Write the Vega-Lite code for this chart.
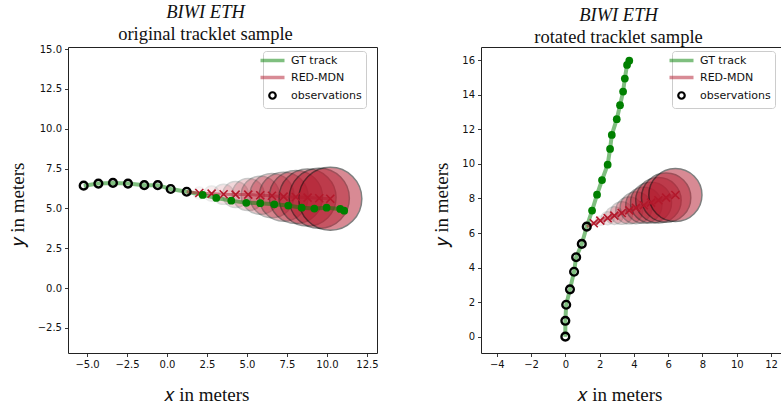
{
  "$schema": "https://vega.github.io/schema/vega-lite/v6.json",
  "padding": {"left": 7, "top": 2, "right": 0, "bottom": 0},
  "spacing": 104,
  "bounds": "flush",
  "datasets": {
    "leftTrack": [
      {"t": 0, "kind": "obs", "x": -5.21, "y": 6.43},
      {"t": 1, "kind": "obs", "x": -4.29, "y": 6.56},
      {"t": 2, "kind": "obs", "x": -3.38, "y": 6.60},
      {"t": 3, "kind": "obs", "x": -2.44, "y": 6.56},
      {"t": 4, "kind": "obs", "x": -1.42, "y": 6.46},
      {"t": 5, "kind": "obs", "x": -0.58, "y": 6.46},
      {"t": 6, "kind": "obs", "x": 0.23, "y": 6.22},
      {"t": 7, "kind": "obs", "x": 1.23, "y": 6.05},
      {"t": 8, "kind": "future", "x": 2.23, "y": 5.85},
      {"t": 9, "kind": "future", "x": 3.08, "y": 5.66},
      {"t": 10, "kind": "future", "x": 4.02, "y": 5.49},
      {"t": 11, "kind": "future", "x": 4.96, "y": 5.35},
      {"t": 12, "kind": "future", "x": 5.83, "y": 5.33},
      {"t": 13, "kind": "future", "x": 6.71, "y": 5.26},
      {"t": 14, "kind": "future", "x": 7.58, "y": 5.18},
      {"t": 15, "kind": "future", "x": 8.42, "y": 5.05},
      {"t": 16, "kind": "future", "x": 9.21, "y": 4.99},
      {"t": 17, "kind": "future", "x": 9.98, "y": 5.05},
      {"t": 18, "kind": "future", "x": 10.83, "y": 4.97},
      {"t": 19, "kind": "future", "x": 11.08, "y": 4.86}
    ],
    "leftPred": [
      {"step": 0, "x": 1.23, "y": 6.05, "r": 0},
      {"step": 1, "x": 2.02, "y": 5.97, "r": 0.38},
      {"step": 2, "x": 2.79, "y": 5.93, "r": 0.47},
      {"step": 3, "x": 3.54, "y": 5.89, "r": 0.63},
      {"step": 4, "x": 4.29, "y": 5.87, "r": 0.81},
      {"step": 5, "x": 5.08, "y": 5.87, "r": 1.0},
      {"step": 6, "x": 5.83, "y": 5.83, "r": 1.19},
      {"step": 7, "x": 6.56, "y": 5.80, "r": 1.38},
      {"step": 8, "x": 7.29, "y": 5.74, "r": 1.53},
      {"step": 9, "x": 8.06, "y": 5.72, "r": 1.66},
      {"step": 10, "x": 8.79, "y": 5.68, "r": 1.78},
      {"step": 11, "x": 9.52, "y": 5.64, "r": 1.88},
      {"step": 12, "x": 10.21, "y": 5.61, "r": 1.97}
    ],
    "rightTrack": [
      {"t": 0, "kind": "obs", "x": 0.0, "y": 0.0},
      {"t": 1, "kind": "obs", "x": 0.0, "y": 0.92},
      {"t": 2, "kind": "obs", "x": 0.05, "y": 1.85},
      {"t": 3, "kind": "obs", "x": 0.27, "y": 2.74},
      {"t": 4, "kind": "obs", "x": 0.51, "y": 3.76},
      {"t": 5, "kind": "obs", "x": 0.63, "y": 4.60},
      {"t": 6, "kind": "obs", "x": 0.96, "y": 5.37},
      {"t": 7, "kind": "obs", "x": 1.25, "y": 6.37},
      {"t": 8, "kind": "future", "x": 1.56, "y": 7.30},
      {"t": 9, "kind": "future", "x": 1.85, "y": 8.22},
      {"t": 10, "kind": "future", "x": 2.14, "y": 9.07},
      {"t": 11, "kind": "future", "x": 2.47, "y": 9.96},
      {"t": 12, "kind": "future", "x": 2.61, "y": 10.87},
      {"t": 13, "kind": "future", "x": 2.71, "y": 11.68},
      {"t": 14, "kind": "future", "x": 3.00, "y": 12.59},
      {"t": 15, "kind": "future", "x": 3.19, "y": 13.40},
      {"t": 16, "kind": "future", "x": 3.37, "y": 14.19},
      {"t": 17, "kind": "future", "x": 3.47, "y": 14.94},
      {"t": 18, "kind": "future", "x": 3.60, "y": 15.73},
      {"t": 19, "kind": "future", "x": 3.73, "y": 15.98}
    ],
    "rightPred": [
      {"step": 0, "x": 1.25, "y": 6.37, "r": 0},
      {"step": 1, "x": 1.66, "y": 6.57, "r": 0.17},
      {"step": 2, "x": 2.04, "y": 6.72, "r": 0.29},
      {"step": 3, "x": 2.47, "y": 6.86, "r": 0.41},
      {"step": 4, "x": 2.86, "y": 7.01, "r": 0.55},
      {"step": 5, "x": 3.29, "y": 7.16, "r": 0.70},
      {"step": 6, "x": 3.73, "y": 7.31, "r": 0.84},
      {"step": 7, "x": 4.12, "y": 7.46, "r": 0.99},
      {"step": 8, "x": 4.58, "y": 7.61, "r": 1.13},
      {"step": 9, "x": 5.00, "y": 7.76, "r": 1.28},
      {"step": 10, "x": 5.43, "y": 7.90, "r": 1.42},
      {"step": 11, "x": 5.88, "y": 8.05, "r": 1.54},
      {"step": 12, "x": 6.42, "y": 8.20, "r": 1.66}
    ]
  },
  "hconcat": [
    {
      "width": 309,
      "height": 306,
      "view": {"stroke": "#222", "strokeWidth": 1},
      "title": {"text": "BIWI ETH", "subtitle": "original tracklet sample", "frame": "group", "dx": -17},
      "layer": [
        {
          "data": {"name": "leftPred"},
          "transform": [{"filter": "datum.step > 0"}],
          "mark": {"type": "point", "shape": "circle", "filled": true, "fill": "#b2182b", "stroke": "black", "strokeWidth": 1.5},
          "encoding": {
            "x": {"field": "x", "type": "quantitative", "scale": {"domain": [-6.19, 13.13], "nice": false, "zero": false},
                  "axis": {"values": [-5, -2.5, 0, 2.5, 5, 7.5, 10, 12.5], "format": ".1f", "title": "𝑥 in meters", "titlePadding": 16, "titleX": 138, "labelOverlap": false}},
            "y": {"field": "y", "type": "quantitative", "scale": {"domain": [-4.07, 15.13], "nice": false, "zero": false},
                  "axis": {"values": [-2.5, 0, 2.5, 5, 7.5, 10, 12.5, 15], "format": ".1f", "title": "𝑦 in meters", "titleY": 157, "labelOverlap": false}},
            "size": {"field": "r", "type": "quantitative", "scale": {"type": "pow", "exponent": 2, "domain": [0, 2], "range": [0, 4096]}, "legend": null},
            "opacity": {"field": "step", "type": "quantitative", "scale": {"domain": [0, 12], "range": [0, 0.5]}, "legend": null}
          }
        },
        {
          "data": {"name": "leftTrack"},
          "mark": {"type": "line", "strokeWidth": 4},
          "encoding": {
            "x": {"field": "x", "type": "quantitative"},
            "y": {"field": "y", "type": "quantitative"},
            "order": {"field": "t", "type": "quantitative"},
            "color": {
              "datum": "GT track",
              "scale": {"domain": ["GT track", "RED-MDN", "observations"], "range": ["rgba(0,128,0,0.5)", "rgba(178,24,43,0.5)", "black"]},
              "legend": {
                "title": null, "orient": "none", "legendX": 195, "legendY": 4, "symbolSize": 900,
                "encode": {"symbols": {"update": {
                  "shape": {"signal": "datum.value === 'observations' ? 'circle' : 'stroke'"},
                  "size": {"signal": "datum.value === 'observations' ? 42 : 576"},
                  "strokeWidth": {"signal": "datum.value === 'observations' ? 2.2 : 3.5"},
                  "fill": {"value": "transparent"}
                }}}
              }
            }
          }
        },
        {
          "data": {"name": "leftPred"},
          "mark": {"type": "line", "strokeWidth": 3},
          "encoding": {
            "x": {"field": "x", "type": "quantitative"},
            "y": {"field": "y", "type": "quantitative"},
            "order": {"field": "step", "type": "quantitative"},
            "color": {"datum": "RED-MDN"}
          }
        },
        {
          "data": {"name": "leftPred"},
          "transform": [{"filter": "datum.step > 0"}],
          "mark": {"type": "point", "shape": "M -1 -1 L 1 1 M -1 1 L 1 -1", "filled": false, "color": "#b2182b", "strokeWidth": 1.6, "size": 64, "opacity": 1},
          "encoding": {
            "x": {"field": "x", "type": "quantitative"},
            "y": {"field": "y", "type": "quantitative"}
          }
        },
        {
          "data": {"name": "leftTrack"},
          "transform": [{"filter": "datum.kind === 'future'"}],
          "mark": {"type": "point", "shape": "circle", "filled": true, "color": "green", "size": 60, "opacity": 1},
          "encoding": {
            "x": {"field": "x", "type": "quantitative"},
            "y": {"field": "y", "type": "quantitative"}
          }
        },
        {
          "data": {"name": "leftTrack"},
          "transform": [{"filter": "datum.kind === 'obs'"}],
          "mark": {"type": "point", "shape": "circle", "filled": false, "strokeWidth": 2.4, "size": 60, "opacity": 1},
          "encoding": {
            "x": {"field": "x", "type": "quantitative"},
            "y": {"field": "y", "type": "quantitative"},
            "color": {"datum": "observations"}
          }
        }
      ]
    },
    {
      "width": 301,
      "height": 306,
      "view": {"stroke": null},
      "title": {"text": "BIWI ETH", "subtitle": "rotated tracklet sample", "frame": "group", "dx": -13},
      "resolve": {"axis": {"x": "independent", "y": "independent"}},
      "layer": [
        {
          "data": {"name": "rightPred"},
          "transform": [{"filter": "datum.step > 0"}],
          "mark": {"type": "point", "shape": "circle", "filled": true, "fill": "#b2182b", "stroke": "black", "strokeWidth": 1.5},
          "encoding": {
            "x": {"field": "x", "type": "quantitative", "scale": {"domain": [-4.92, 12.64], "nice": false, "zero": false},
                  "axis": {"values": [-4, -2, 0, 2, 4, 6, 8, 10, 12], "title": "𝑥 in meters", "titlePadding": 16, "titleX": 138, "domain": true, "labelOverlap": false}},
            "y": {"field": "y", "type": "quantitative", "scale": {"domain": [-0.944, 16.77], "nice": false, "zero": false},
                  "axis": {"values": [0, 2, 4, 6, 8, 10, 12, 14, 16], "tickCount": 9, "title": "𝑦 in meters", "titleY": 157, "domain": true, "labelOverlap": false}},
            "size": {"field": "r", "type": "quantitative", "scale": {"type": "pow", "exponent": 2, "domain": [0, 2], "range": [0, 4700]}, "legend": null},
            "opacity": {"field": "step", "type": "quantitative", "scale": {"domain": [0, 12], "range": [0, 0.5]}, "legend": null}
          }
        },
        {
          "data": {"name": "rightTrack"},
          "mark": {"type": "line", "strokeWidth": 4},
          "encoding": {
            "x": {"field": "x", "type": "quantitative", "axis": {"orient": "top", "labels": false, "ticks": false, "title": null, "domain": true}},
            "y": {"field": "y", "type": "quantitative", "axis": null},
            "order": {"field": "t", "type": "quantitative"},
            "color": {
              "datum": "GT track",
              "scale": {"domain": ["GT track", "RED-MDN", "observations"], "range": ["rgba(0,128,0,0.5)", "rgba(178,24,43,0.5)", "black"]},
              "legend": {
                "title": null, "orient": "none", "legendX": 191, "legendY": 4, "symbolSize": 900,
                "encode": {"symbols": {"update": {
                  "shape": {"signal": "datum.value === 'observations' ? 'circle' : 'stroke'"},
                  "size": {"signal": "datum.value === 'observations' ? 42 : 576"},
                  "strokeWidth": {"signal": "datum.value === 'observations' ? 2.2 : 3.5"},
                  "fill": {"value": "transparent"}
                }}}
              }
            }
          }
        },
        {
          "data": {"name": "rightPred"},
          "mark": {"type": "line", "strokeWidth": 3},
          "encoding": {
            "x": {"field": "x", "type": "quantitative", "axis": null},
            "y": {"field": "y", "type": "quantitative", "axis": null},
            "order": {"field": "step", "type": "quantitative"},
            "color": {"datum": "RED-MDN"}
          }
        },
        {
          "data": {"name": "rightPred"},
          "transform": [{"filter": "datum.step > 0"}],
          "mark": {"type": "point", "shape": "M -1 -1 L 1 1 M -1 1 L 1 -1", "filled": false, "color": "#b2182b", "strokeWidth": 1.6, "size": 64, "opacity": 1},
          "encoding": {
            "x": {"field": "x", "type": "quantitative", "axis": null},
            "y": {"field": "y", "type": "quantitative", "axis": null}
          }
        },
        {
          "data": {"name": "rightTrack"},
          "transform": [{"filter": "datum.kind === 'future'"}],
          "mark": {"type": "point", "shape": "circle", "filled": true, "color": "green", "size": 60, "opacity": 1},
          "encoding": {
            "x": {"field": "x", "type": "quantitative", "axis": null},
            "y": {"field": "y", "type": "quantitative", "axis": null}
          }
        },
        {
          "data": {"name": "rightTrack"},
          "transform": [{"filter": "datum.kind === 'obs'"}],
          "mark": {"type": "point", "shape": "circle", "filled": false, "strokeWidth": 2.4, "size": 60, "opacity": 1},
          "encoding": {
            "x": {"field": "x", "type": "quantitative", "axis": null},
            "y": {"field": "y", "type": "quantitative", "axis": null},
            "color": {"datum": "observations"}
          }
        }
      ]
    }
  ],
  "resolve": {"scale": {"color": "independent"}, "legend": {"color": "independent"}},
  "config": {
    "background": "white",
    "axis": {
      "grid": false,
      "domain": false,
      "domainColor": "#222",
      "domainWidth": 1,
      "tickColor": "#222",
      "tickSize": 3.5,
      "tickWidth": 0.9,
      "labelFont": "DejaVu Sans",
      "labelFontSize": 10,
      "labelColor": "#111",
      "labelPadding": 3,
      "labelOverlap": false,
      "titleFont": "Liberation Serif",
      "titleFontSize": 19,
      "titleFontWeight": "normal",
      "titleColor": "#111",
      "titlePadding": 10
    },
    "title": {
      "font": "Liberation Serif",
      "fontSize": 18.5,
      "fontStyle": "italic",
      "fontWeight": "normal",
      "color": "#111",
      "subtitleFont": "Liberation Serif",
      "subtitleFontSize": 18.5,
      "subtitleColor": "#111",
      "subtitlePadding": 3,
      "anchor": "middle",
      "offset": 1
    },
    "legend": {
      "labelFont": "DejaVu Sans",
      "labelFontSize": 11,
      "labelColor": "#111",
      "labelOffset": 13,
      "fillColor": "rgba(255,255,255,0.8)",
      "strokeColor": "#cccccc",
      "cornerRadius": 3,
      "padding": 4,
      "rowPadding": 2,
      "symbolSize": 900
    }
  }
}
